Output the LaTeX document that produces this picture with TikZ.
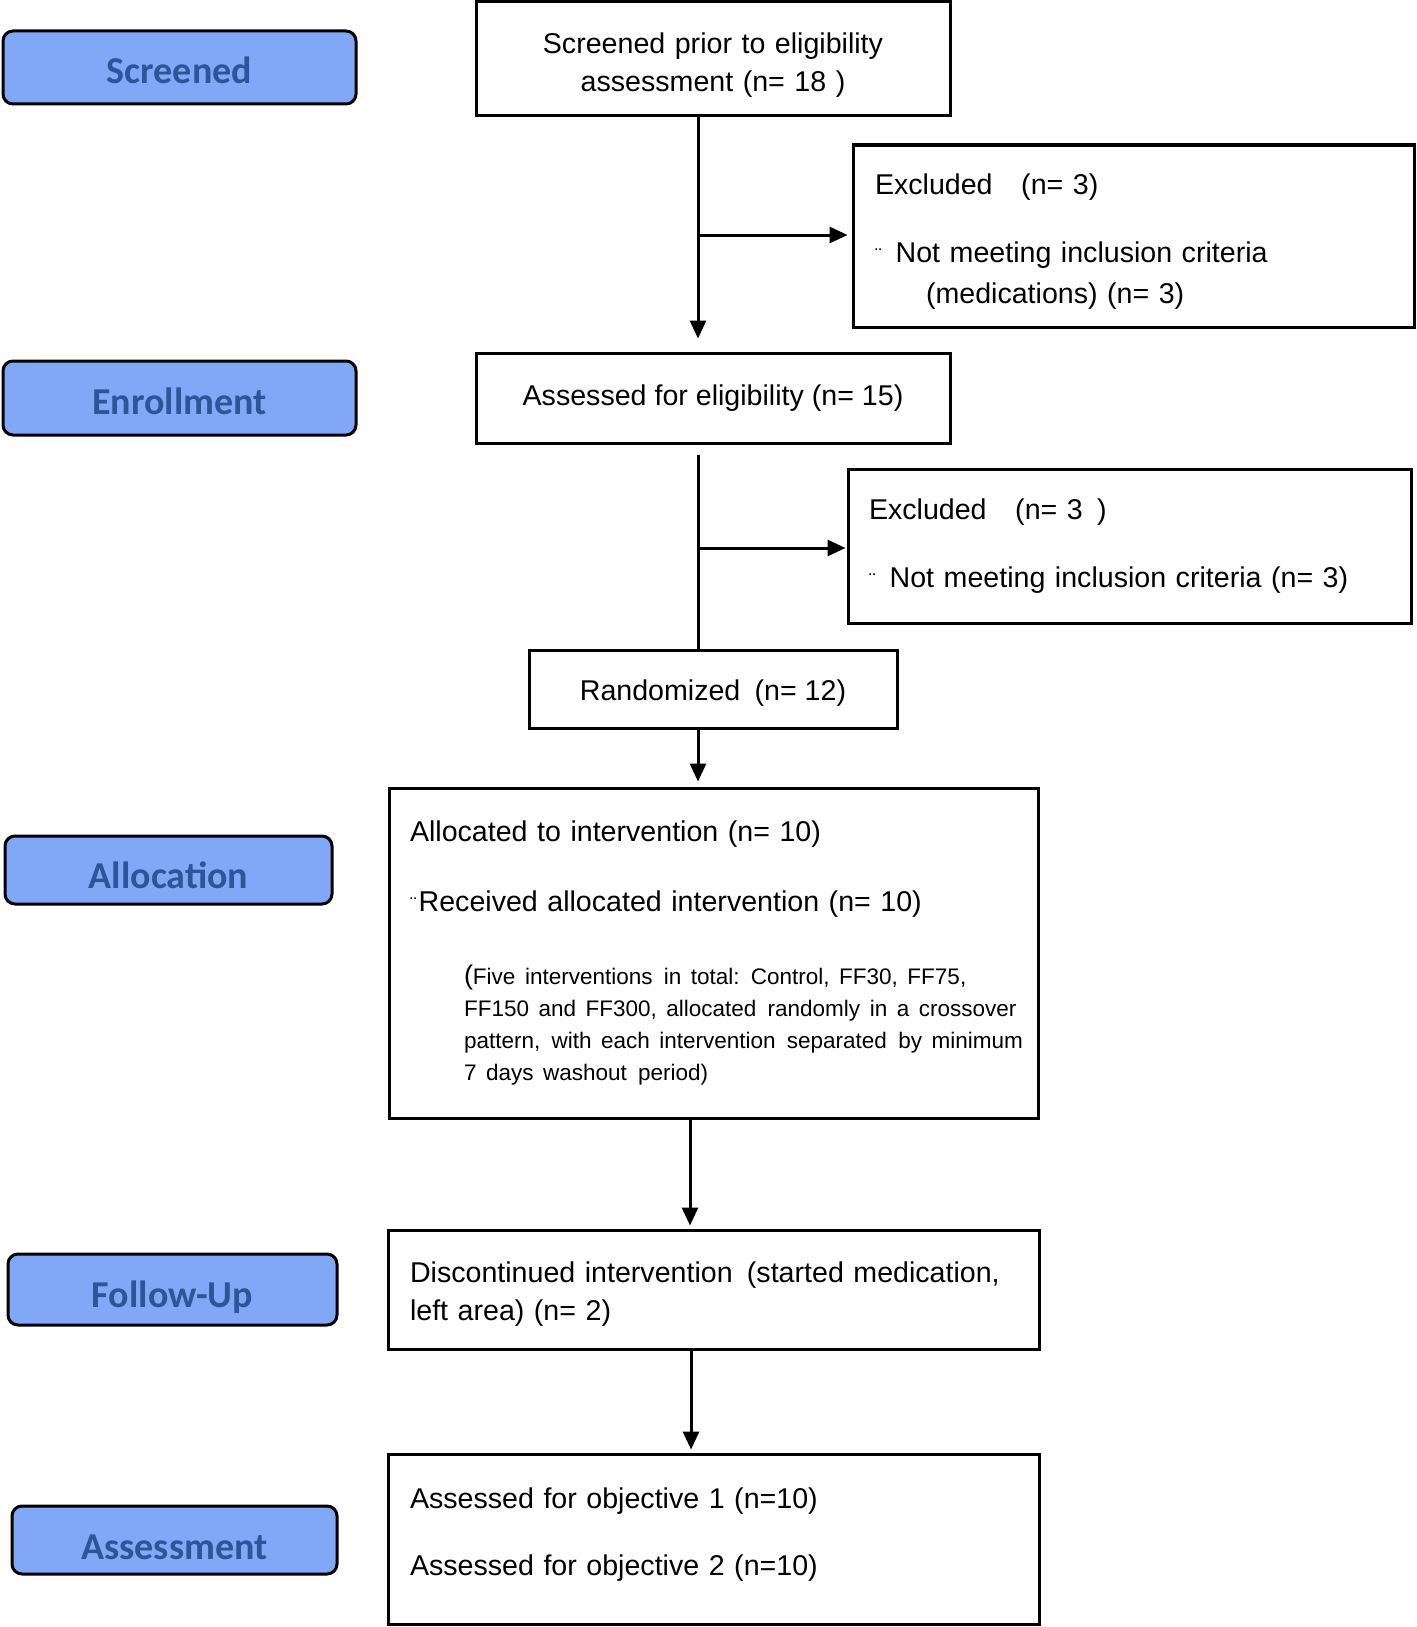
\documentclass[tikz,border=0pt]{standalone}
\usepackage{fontspec}
\setmainfont{Liberation Sans}
\newfontfamily\labfont{Carlito}
\usetikzlibrary{arrows.meta}
\definecolor{labfill}{HTML}{80A8F7}
\definecolor{labtext}{HTML}{2B5699}
\newcommand\mybul{{\fontsize{20}{20}\selectfont ¨}}
\newcommand\lowerby[2]{\raisebox{-#1}[\height][\depth]{#2}}
\begin{document}
\begin{tikzpicture}[x=1pt,y=-1pt]
\tikzset{
 box/.style={draw, line width=3pt, rectangle, inner sep=0pt, font=\fontsize{28.6}{38}\selectfont},
 lab/.style={draw, line width=3pt, rounded corners=10pt, fill=labfill, text=labtext, inner sep=0pt, font=\labfont\bfseries\fontsize{38}{40}\selectfont},
 arr/.style={line width=3pt, -{Triangle[length=18pt,width=16pt]}},
 con/.style={line width=3pt},
}
\useasboundingbox (0,0) rectangle (1416,1627);
% stage labels
\node[lab, minimum width=353, minimum height=73] (lscr) at (179.5,67.5) {\lowerby{3pt}{Screened}};
\node[lab, minimum width=353, minimum height=74] (lenr) at (179.5,398) {\lowerby{3pt}{Enrollment}};
\node[lab, minimum width=327, minimum height=68] (lall) at (168.5,870) {\lowerby{5pt}{Allocation}};
\node[lab, minimum width=329, minimum height=71] (lfol) at (172.5,1289.5) {\lowerby{8pt}{Follow-Up}};
\node[lab, minimum width=325, minimum height=68] (lass) at (174.5,1540) {\lowerby{7pt}{Assessment}};
% boxes
\node[box, minimum width=474, minimum height=114, text width=440, align=center] (scr) at (713,59) {Screened prior to eligibility\\assessment (n= 18 )\par\kern-12pt};
\node[box, text width=517, inner xsep=22, minimum height=182, align=left] (exc1) at (1133.5,236) {Excluded\enspace\enspace(n= 3)\\[30pt]\mybul\hspace*{14pt}Not meeting inclusion criteria\\[3pt]\hspace*{51pt}(medications) (n= 3)\par\kern-12pt};
\node[box, minimum width=474, minimum height=90, align=center] (ass) at (713,398) {Assessed for eligibility (n= 15)};
\node[box, text width=521, inner xsep=21, minimum height=154, align=left] (exc2) at (1129.5,546) {Excluded\enspace\enspace(n= 3\enspace)\\[30pt]\mybul\hspace*{14pt}Not meeting inclusion criteria (n= 3)};
\node[box, minimum width=368, minimum height=78, align=center] (rnd) at (713,689) {\lowerby{4pt}{Randomized\enspace(n= 12)}};
\node[box, text width=607, inner xsep=21, minimum height=330, align=left] (alloc) at (713.5,953) {Allocated to intervention (n= 10)\\[32pt]\mybul\hspace*{2pt}Received allocated intervention (n= 10)\\[35pt]\hspace*{54pt}\parbox[t]{560pt}{\raggedright\fontsize{22.5}{32}\selectfont {\fontsize{27}{32}\selectfont(}Five interventions\enspace in total:\enspace Control, FF30, FF75,\\FF150 and FF300, allocated\enspace randomly in a crossover\\pattern,\enspace with each intervention\enspace separated\enspace by minimum\\7 days washout\enspace period)\par}};
\node[box, text width=607, inner xsep=22, minimum height=119, align=left] (disc) at (713.5,1289.5) {Discontinued intervention\enspace(started medication,\\left area) (n= 2)\par\kern-10pt};
\node[box, text width=607, inner xsep=22, minimum height=170, align=left] (asm) at (713.5,1539) {Assessed for objective 1 (n=10)\\[29pt]Assessed for objective 2 (n=10)\par\kern9pt};
% connectors
\coordinate (c1) at (698,0);
\coordinate (c2) at (690,0);
\coordinate (c3) at (691,0);
\coordinate (b1) at (698,235);
\coordinate (b2) at (698,548);
\draw[arr, shorten >=13pt] (scr.south -| c1) -- (ass.north -| c1);
\draw[arr, shorten >=4pt] (b1) -- (b1 -| exc1.west);
\draw[con, shorten <=10pt] (ass.south -| c1) -- (rnd.north -| c1);
\draw[arr, shorten >=1pt] (b2) -- (b2 -| exc2.west);
\draw[arr, shorten >=5pt] (rnd.south -| c1) -- (alloc.north -| c1);
\draw[arr, shorten >=3pt] (alloc.south -| c2) -- (disc.north -| c2);
\draw[arr, shorten >=3pt] (disc.south -| c3) -- (asm.north -| c3);
\end{tikzpicture}
\end{document}
